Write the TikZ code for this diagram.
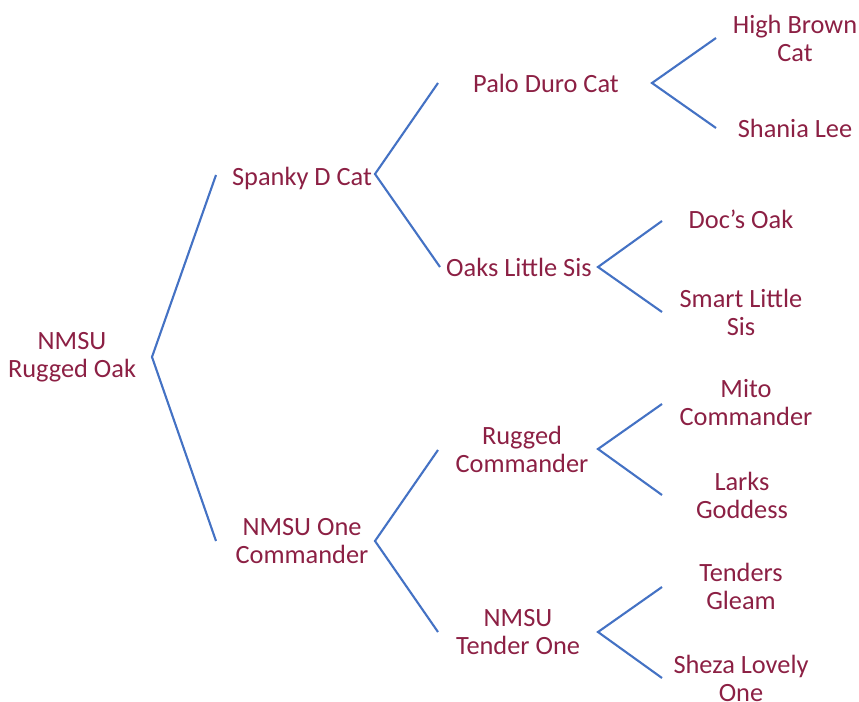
\documentclass[tikz,border=0pt]{standalone}
\usepackage{fontspec}
\setmainfont{Carlito}
\usepackage{tikz}
\usetikzlibrary{calc}

\definecolor{horse}{RGB}{140,32,68}
\definecolor{line}{RGB}{68,114,196}

\begin{document}
\begin{tikzpicture}[x=0.03cm,y=-0.03cm,
    horse/.style={text=horse,align=center,inner sep=0pt,
      font=\fontsize{22.5}{23.9}\selectfont},
    branch/.style={draw=line,line width=1.8pt}]
    \useasboundingbox (0,0) rectangle (859,702);

    % names
    \node[horse] (oak)     at ( 72, 357) {NMSU\\Rugged Oak};
    \node[horse] (spanky)  at (302, 178) {Spanky D Cat};
    \node[horse] (one)     at (302, 541) {NMSU One\\Commander};
    \node[horse] (palo)    at (546,  83) {Palo Duro Cat};
    \node[horse] (sis)     at (519, 267) {Oaks Little Sis};
    \node[horse] (rugged)  at (522, 449) {Rugged\\Commander};
    \node[horse] (tender)  at (518, 632) {NMSU\\Tender One};
    \node[horse] (high)    at (795,  38) {High Brown\\Cat};
    \node[horse] (shania)  at (795, 128) {Shania Lee};
    \node[horse] (docs)    at (741, 219) {Doc’s Oak};
    \node[horse] (smart)   at (741, 312) {Smart Little\\Sis};
    \node[horse] (mito)    at (746, 403) {Mito\\Commander};
    \node[horse] (larks)   at (742, 495) {Larks\\Goddess};
    \node[horse] (gleam)   at (741, 586) {Tenders\\Gleam};
    \node[horse] (sheza)   at (741, 678) {Sheza Lovely\\One};

    % line ends
    \coordinate (oak-v)    at (152, 357);
    \coordinate (spanky-v) at (375, 174);
    \coordinate (one-v)    at (375, 541);
    \coordinate (palo-v)   at (652,  83);
    \coordinate (sis-v)    at (598, 267);
    \coordinate (rugged-v) at (598, 449);
    \coordinate (tender-v) at (598, 632);
    \coordinate (spanky-e) at (216, 175);
    \coordinate (one-e)    at (216, 541);
    \coordinate (palo-e)   at (438,  83);
    \coordinate (sis-e)    at (440, 267);
    \coordinate (rugged-e) at (438, 450);
    \coordinate (tender-e) at (438, 632);
    \coordinate (high-e)   at (716,  38);
    \coordinate (shania-e) at (716, 128);
    \coordinate (docs-e)   at (662, 221);
    \coordinate (smart-e)  at (662, 312);
    \coordinate (mito-e)   at (662, 404);
    \coordinate (larks-e)  at (662, 495);
    \coordinate (gleam-e)  at (662, 587);
    \coordinate (sheza-e)  at (662, 678);

    \draw[branch] (spanky-e) -- (oak-v) -- (one-e);
    \draw[branch] (palo-e) -- (spanky-v) -- (sis-e);
    \draw[branch] (rugged-e) -- (one-v) -- (tender-e);
    \draw[branch] (high-e) -- (palo-v) -- (shania-e);
    \draw[branch] (docs-e) -- (sis-v) -- (smart-e);
    \draw[branch] (mito-e) -- (rugged-v) -- (larks-e);
    \draw[branch] (gleam-e) -- (tender-v) -- (sheza-e);
  \end{tikzpicture}
\end{document}
